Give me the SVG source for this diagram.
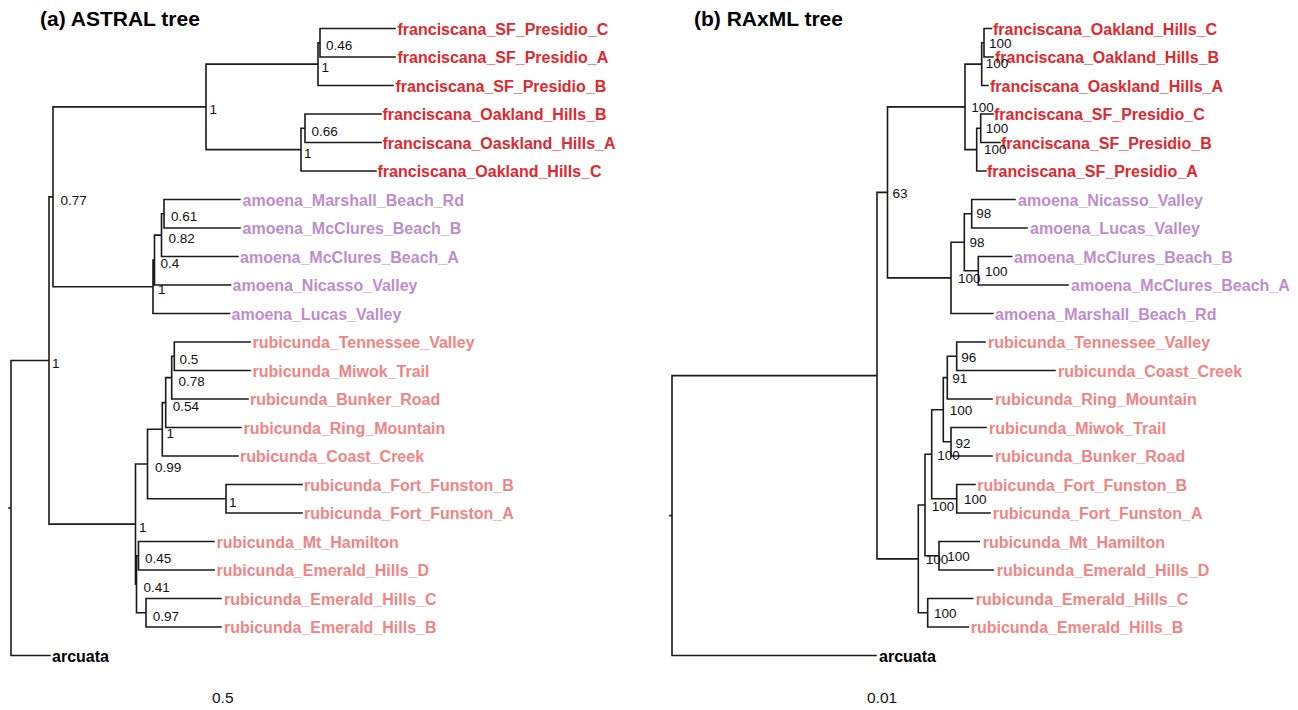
<svg xmlns="http://www.w3.org/2000/svg" width="1298" height="710" viewBox="0 0 1298 710">
<style>
.e{fill:none;stroke:#1a1a1a;stroke-width:1.6;stroke-linecap:square}
.t{font-family:"Liberation Sans",Arial,sans-serif;font-weight:bold;font-size:16px}
.fr{fill:#E0282E}.am{fill:#BE8DCB}.ru{fill:#F08585}.ar{fill:#000}
.s{font-family:"Liberation Sans",Arial,sans-serif;font-size:13.5px;fill:#111}
.h{font-family:"Liberation Sans",Arial,sans-serif;font-weight:bold;font-size:21px;fill:#000}
.sc{font-family:"Liberation Sans",Arial,sans-serif;font-size:15.5px;fill:#111}
</style>
<rect width="1298" height="710" fill="#fff"/>
<text class="h" x="40" y="25.7">(a) ASTRAL tree</text>
<text class="h" x="694" y="25.7">(b) RAxML tree</text>
<g id="connectors">
<path class="e" d="M9 508H11M11 360.5V655.5M11 360.5H49M11 655.5H50
M49 196.9V524.1M49 196.9H53M49 524.1H135.5
M53 106.9V286.8M53 106.9H206M53 286.8H153
M206 64.1V149.6M206 64.1H318M206 149.6H301
M318 42.75V85.5M318 42.75H320M318 85.5H393
M320 28.5V57M320 28.5H395M320 57H395
M301 128.25V171M301 128.25H305M301 171H376
M305 114V142.5M305 114H381M305 142.5H381
M153 260V313.5M153 260H154.5M153 313.5H229.5
M154.5 235.1V285M154.5 235.1H161.5M154.5 285H230.5
M161.5 213.75V256.5M161.5 213.75H164M161.5 256.5H238
M164 199.5V228M164 199.5H240M164 228H240
M135.5 464V584.25M135.5 464H147.5M135.5 584.25H136.5
M136.5 555.75V612.75M136.5 555.75H138.5M136.5 612.75H146
M138.5 541.5V570M138.5 541.5H214M138.5 570H214
M146 598.5V627M146 598.5H221M146 627H221
M147.5 429.3V498.75M147.5 429.3H162.3M147.5 498.75H226
M162.3 402.6V456M162.3 402.6H165.7M162.3 456H238
M165.7 377.6V427.5M165.7 377.6H171.7M165.7 427.5H241
M171.7 356.25V399M171.7 356.25H174.3M171.7 399H248
M174.3 342V370.5M174.3 342H250M174.3 370.5H250
M226 484.5V513M226 484.5H302M226 513H302"/>
<path class="e" d="M670 515.6H672M672 375.6V655.5M672 375.6H877M672 655.5H876
M877 192.4V558.9M877 192.4H887.5M877 558.9H918.3
M887.5 106.9V277.9M887.5 106.9H965M887.5 277.9H951
M965 64.1V149.6M965 64.1H981.7M965 149.6H976.7
M981.7 42.75V85.5M981.7 42.75H984M981.7 85.5H988
M984 28.5V57M984 28.5H991.5M984 57H993
M976.7 128.25V171M976.7 128.25H980.7M976.7 171H986
M980.7 114V142.5M980.7 114H993M980.7 142.5H1000
M951 242.25V313.5M951 242.25H964.3M951 313.5H993
M964.3 213.75V270.75M964.3 213.75H971.7M964.3 270.75H978.3
M971.7 199.5V228M971.7 199.5H1015M971.7 228H1027
M978.3 256.5V285M978.3 256.5H1011.7M978.3 285H1068
M918.3 505V612.75M918.3 505H925M918.3 612.75H927.7
M925 454.2V555.75M925 454.2H931.7M925 555.75H939
M931.7 409.7V498.75M931.7 409.7H943.3M931.7 498.75H956.7
M943.3 377.6V441.75M943.3 377.6H947.3M943.3 441.75H951
M947.3 356.25V399M947.3 356.25H956.7M947.3 399H992
M956.7 342V370.5M956.7 342H985M956.7 370.5H1055
M951 427.5V456M951 427.5H986M951 456H992
M956.7 484.5V513M956.7 484.5H975M956.7 513H990
M939 541.5V570M939 541.5H979.3M939 570H993.3
M927.7 598.5V627M927.7 598.5H972.7M927.7 627H968.3"/>
</g>
<g id="tipsA">
<text id="a_sfc" class="t fr" x="397.5" y="34.5">franciscana_SF_Presidio_C</text>
<text id="a_sfa" class="t fr" x="397.5" y="63">franciscana_SF_Presidio_A</text>
<text id="a_sfb" class="t fr" x="395.5" y="91.5">franciscana_SF_Presidio_B</text>
<text id="a_ohb" class="t fr" x="382.5" y="120">franciscana_Oakland_Hills_B</text>
<text id="a_osha" class="t fr" x="382.5" y="148.5">franciscana_Oaskland_Hills_A</text>
<text id="a_ohc" class="t fr" x="377.5" y="177">franciscana_Oakland_Hills_C</text>
<text id="a_mbr" class="t am" x="242.5" y="205.5">amoena_Marshall_Beach_Rd</text>
<text id="a_mcb" class="t am" x="242.5" y="234">amoena_McClures_Beach_B</text>
<text id="a_mca" class="t am" x="240" y="262.5">amoena_McClures_Beach_A</text>
<text id="a_nv" class="t am" x="232.5" y="291">amoena_Nicasso_Valley</text>
<text id="a_lv" class="t am" x="231.5" y="319.5">amoena_Lucas_Valley</text>
<text id="a_tv" class="t ru" x="252.5" y="348">rubicunda_Tennessee_Valley</text>
<text id="a_mt" class="t ru" x="252.5" y="376.5">rubicunda_Miwok_Trail</text>
<text id="a_br" class="t ru" x="250" y="405">rubicunda_Bunker_Road</text>
<text id="a_rm" class="t ru" x="243.5" y="433.5">rubicunda_Ring_Mountain</text>
<text id="a_cc" class="t ru" x="240" y="462">rubicunda_Coast_Creek</text>
<text id="a_ffb" class="t ru" x="304" y="490.5">rubicunda_Fort_Funston_B</text>
<text id="a_ffa" class="t ru" x="304" y="519">rubicunda_Fort_Funston_A</text>
<text id="a_mh" class="t ru" x="216.5" y="547.5">rubicunda_Mt_Hamilton</text>
<text id="a_ehd" class="t ru" x="216.5" y="576">rubicunda_Emerald_Hills_D</text>
<text id="a_ehc" class="t ru" x="224" y="604.5">rubicunda_Emerald_Hills_C</text>
<text id="a_ehb" class="t ru" x="224" y="633">rubicunda_Emerald_Hills_B</text>
<text id="a_arc" class="t ar" x="52" y="661.5">arcuata</text>
</g>
<g id="supportA">
<text class="s" x="326" y="50">0.46</text>
<text class="s" x="321.5" y="71.5">1</text>
<text class="s" x="209.5" y="114">1</text>
<text class="s" x="311.5" y="135.5">0.66</text>
<text class="s" x="304" y="158">1</text>
<text class="s" x="60.5" y="205">0.77</text>
<text class="s" x="171" y="221">0.61</text>
<text class="s" x="168.5" y="243">0.82</text>
<text class="s" x="160.5" y="267.5">0.4</text>
<text class="s" x="158" y="294">1</text>
<text class="s" x="52" y="367.5">1</text>
<text class="s" x="179.5" y="364">0.5</text>
<text class="s" x="178.5" y="385.5">0.78</text>
<text class="s" x="172.8" y="410.5">0.54</text>
<text class="s" x="166.5" y="437.5">1</text>
<text class="s" x="155" y="471.5">0.99</text>
<text class="s" x="229" y="506.5">1</text>
<text class="s" x="139" y="532">1</text>
<text class="s" x="145" y="563">0.45</text>
<text class="s" x="143.5" y="591.5">0.41</text>
<text class="s" x="152.8" y="620.5">0.97</text>
</g>
<g id="tipsB">
<text id="b_ohc" class="t fr" x="993" y="34.5">franciscana_Oakland_Hills_C</text>
<text id="b_ohb" class="t fr" x="995" y="63">franciscana_Oakland_Hills_B</text>
<text id="b_osha" class="t fr" x="990" y="91.5">franciscana_Oaskland_Hills_A</text>
<text id="b_sfc" class="t fr" x="994" y="120">franciscana_SF_Presidio_C</text>
<text id="b_sfb" class="t fr" x="1001" y="148.5">franciscana_SF_Presidio_B</text>
<text id="b_sfa" class="t fr" x="987" y="177">franciscana_SF_Presidio_A</text>
<text id="b_nv" class="t am" x="1018" y="205.5">amoena_Nicasso_Valley</text>
<text id="b_lv" class="t am" x="1030" y="234">amoena_Lucas_Valley</text>
<text id="b_mcb" class="t am" x="1014" y="262.5">amoena_McClures_Beach_B</text>
<text id="b_mca" class="t am" x="1071" y="291">amoena_McClures_Beach_A</text>
<text id="b_mbr" class="t am" x="995" y="319.5">amoena_Marshall_Beach_Rd</text>
<text id="b_tv" class="t ru" x="988" y="348">rubicunda_Tennessee_Valley</text>
<text id="b_cc" class="t ru" x="1058" y="376.5">rubicunda_Coast_Creek</text>
<text id="b_rm" class="t ru" x="995" y="405">rubicunda_Ring_Mountain</text>
<text id="b_mt" class="t ru" x="989" y="433.5">rubicunda_Miwok_Trail</text>
<text id="b_br" class="t ru" x="995" y="462">rubicunda_Bunker_Road</text>
<text id="b_ffb" class="t ru" x="977.3" y="490.5">rubicunda_Fort_Funston_B</text>
<text id="b_ffa" class="t ru" x="992.7" y="519">rubicunda_Fort_Funston_A</text>
<text id="b_mh" class="t ru" x="982.7" y="547.5">rubicunda_Mt_Hamilton</text>
<text id="b_ehd" class="t ru" x="996.7" y="576">rubicunda_Emerald_Hills_D</text>
<text id="b_ehc" class="t ru" x="975.7" y="604.5">rubicunda_Emerald_Hills_C</text>
<text id="b_ehb" class="t ru" x="970.7" y="633">rubicunda_Emerald_Hills_B</text>
<text id="b_arc" class="t ar" x="879" y="661.5">arcuata</text>
</g>
<g id="supportB">
<text class="s" x="989" y="47.7">100</text>
<text class="s" x="985.7" y="68">100</text>
<text class="s" x="971.3" y="111.7">100</text>
<text class="s" x="985.7" y="133.3">100</text>
<text class="s" x="984" y="154.3">100</text>
<text class="s" x="892.5" y="198">63</text>
<text class="s" x="976.2" y="218.3">98</text>
<text class="s" x="969.5" y="247.3">98</text>
<text class="s" x="985" y="275.7">100</text>
<text class="s" x="958" y="283.3">100</text>
<text class="s" x="961.2" y="361.7">96</text>
<text class="s" x="952.2" y="383.3">91</text>
<text class="s" x="949.7" y="415">100</text>
<text class="s" x="955.5" y="447.7">92</text>
<text class="s" x="937.3" y="460">100</text>
<text class="s" x="964" y="504.3">100</text>
<text class="s" x="931.7" y="511">100</text>
<text class="s" x="947.3" y="561">100</text>
<text class="s" x="925.7" y="564.3">100</text>
<text class="s" x="934" y="618.3">100</text>
</g>
<g id="scales">
<text class="sc" x="212" y="702.5">0.5</text>
<text class="sc" x="867" y="702.5">0.01</text>
</g>
</svg>
